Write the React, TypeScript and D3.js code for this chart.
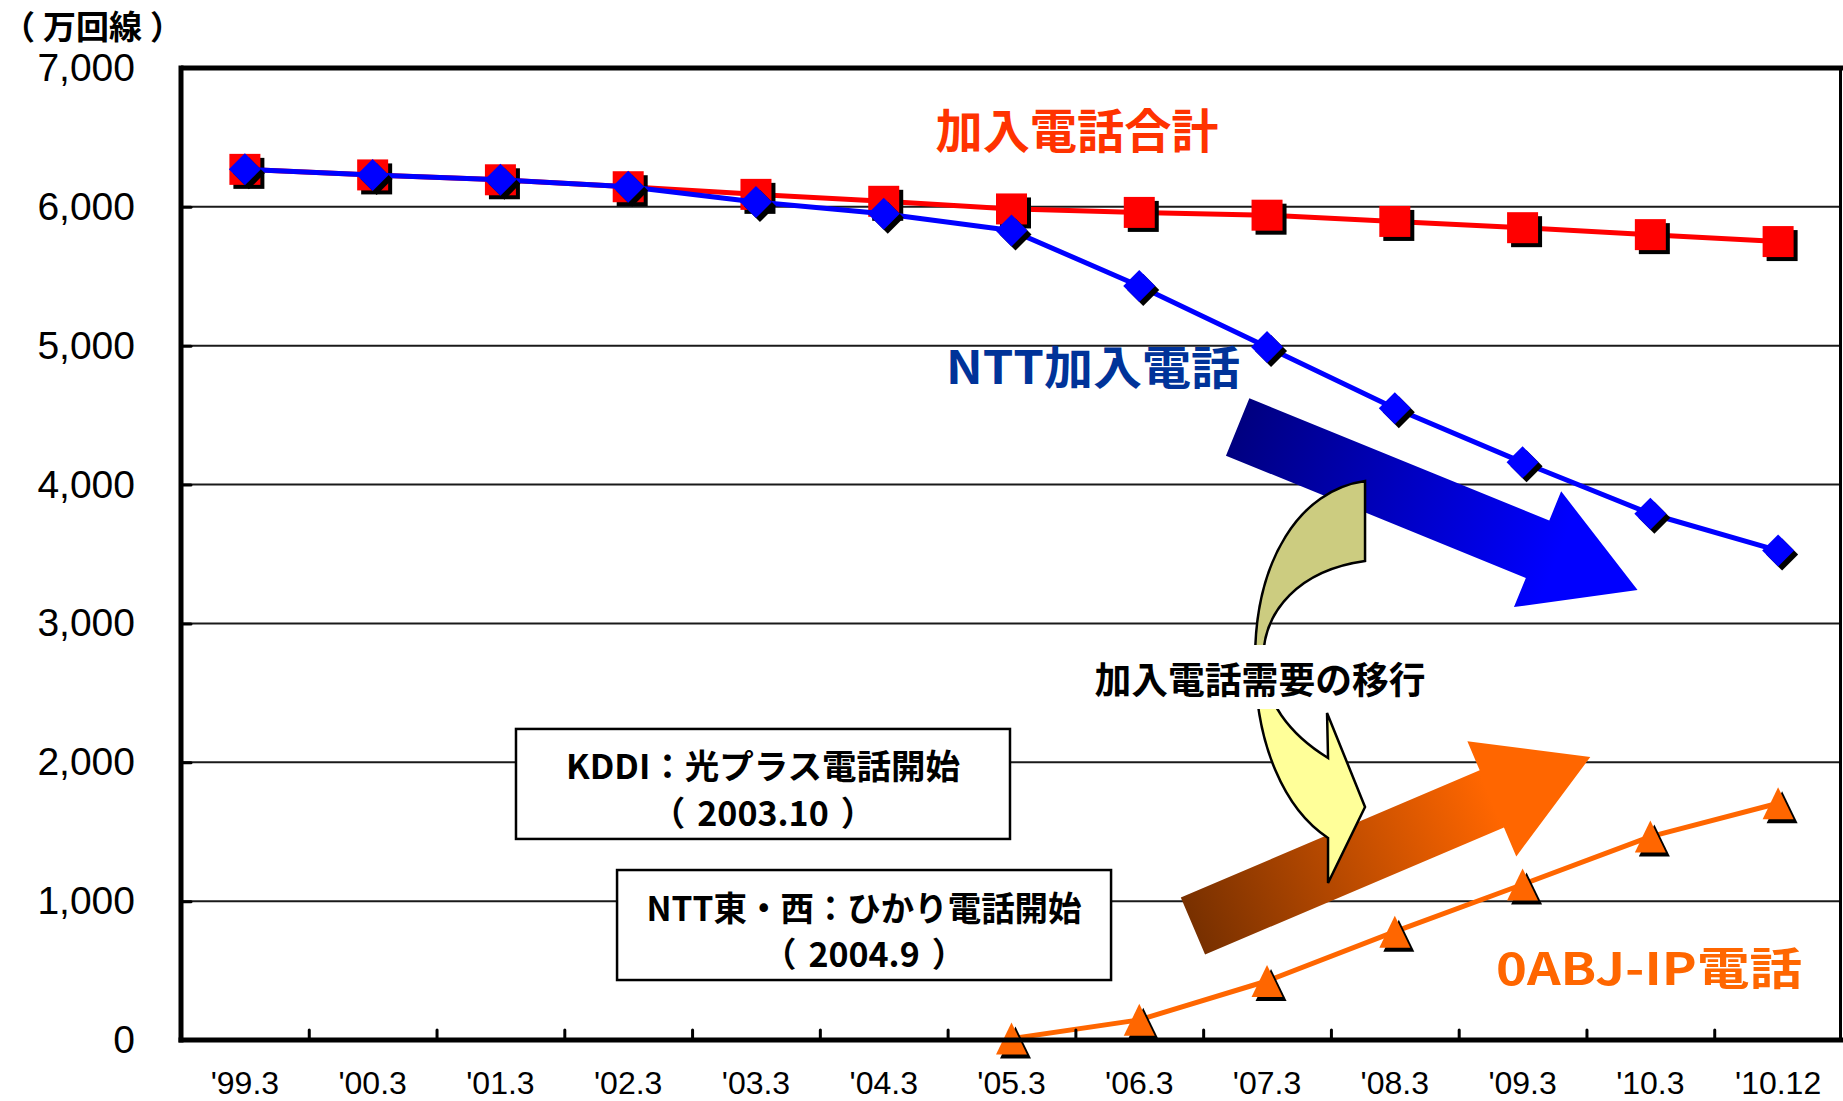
import React, { useEffect, useRef } from "react";
import * as d3 from "d3";

// x axis periods
const categories = ["'99.3", "'00.3", "'01.3", "'02.3", "'03.3", "'04.3", "'05.3", "'06.3", "'07.3", "'08.3", "'09.3", "'10.3", "'10.12"];
// 加入電話合計 (万回線)
const totalLines = [6270, 6230, 6195, 6145, 6090, 6040, 5985, 5960, 5940, 5895, 5850, 5800, 5750];
// NTT加入電話
const nttLines = [6270, 6230, 6195, 6145, 6035, 5950, 5830, 5430, 4990, 4550, 4160, 3790, 3525];
// 0ABJ-IP電話
const ipLines = [null, null, null, null, null, null, 10, 145, 425, 780, 1120, 1465, 1705];
const yTicks = [0, 1000, 2000, 3000, 4000, 5000, 6000, 7000];

const W = 1843;
const H = 1101;
const jp = "'Noto Sans CJK JP', 'Noto Sans CJK SC', sans-serif";
const latin = "'Liberation Sans', Arial, sans-serif";

type Pt = [number, number];

// block arrow from tail to tip
const arrowPath = (t: Pt, p: Pt, sw: number, hw: number, hl: number) => {
  const dx = p[0] - t[0];
  const dy = p[1] - t[1];
  const len = Math.hypot(dx, dy);
  const ux = dx / len, uy = dy / len;
  const nx = -uy, ny = ux;
  const bx = p[0] - ux * hl, by = p[1] - uy * hl;
  const pts: Pt[] = [
    [t[0] + (nx * sw) / 2, t[1] + (ny * sw) / 2],
    [bx + (nx * sw) / 2, by + (ny * sw) / 2],
    [bx + (nx * hw) / 2, by + (ny * hw) / 2],
    p,
    [bx - (nx * hw) / 2, by - (ny * hw) / 2],
    [bx - (nx * sw) / 2, by - (ny * sw) / 2],
    [t[0] - (nx * sw) / 2, t[1] - (ny * sw) / 2],
  ];
  return "M" + pts.map((d) => d.join(",")).join("L") + "Z";
};

const square = "M-15.5,-15.5H15.5V15.5H-15.5Z";
const diamond = "M0,-16L16,0L0,16L-16,0Z";
const triangle = "M0,-16L15.5,16L-15.5,16Z";

const App = () => {
  const ref = useRef<SVGSVGElement>(null);

  useEffect(() => {
    const svg = d3.select(ref.current);
    svg.selectAll("*").remove();

    const left = 181, right = 1842, top = 68, bottom = 1040;

    const x = d3.scaleBand().domain(categories).range([left, right]);
    // fractional category position, for the annotations
    const xi = d3.scaleLinear().domain([-0.5, categories.length - 0.5]).range([left, right]);
    const y = d3.scaleLinear().domain([0, 7000]).range([bottom, top]);
    const cx = (i: number) => (x(categories[i]) as number) + x.bandwidth() / 2;
    const at = (i: number, v: number): Pt => [xi(i), y(v)];

    const defs = svg.append("defs");
    const grad = (id: string, a: Pt, b: Pt, stops: [number, string][]) => {
      const g = defs
        .append("linearGradient")
        .attr("id", id)
        .attr("gradientUnits", "userSpaceOnUse")
        .attr("x1", a[0]).attr("y1", a[1]).attr("x2", b[0]).attr("y2", b[1]);
      stops.forEach(([o, c]) => g.append("stop").attr("offset", o).attr("stop-color", c));
    };

    // grid
    svg
      .append("g")
      .selectAll("line")
      .data(yTicks.filter((d) => d > 0 && d < 7000))
      .join("line")
      .attr("x1", left).attr("x2", right)
      .attr("y1", (d) => y(d)).attr("y2", (d) => y(d))
      .attr("stroke", "#1a1a1a")
      .attr("stroke-width", 2);

    // big arrows
    const blueTail = at(7.77, 4415), blueTip = at(10.9, 3241);
    const orTail = at(7.42, 821), orTip = at(10.53, 2038);
    grad("gBlue", blueTail, blueTip, [[0, "#000080"], [0.8, "#0000FF"]]);
    grad("gOrange", orTail, orTip, [[0, "#783000"], [0.75, "#FF6600"]]);
    svg.append("path").attr("d", arrowPath(blueTail, blueTip, 62, 125, 108)).attr("fill", "url(#gBlue)");
    svg.append("path").attr("d", arrowPath(orTail, orTip, 62, 125, 107)).attr("fill", "url(#gOrange)");

    // curved arrow (demand shift); gradient is in the translated space
    const [ax, ay] = at(8.767, 2737);
    grad("gCurve", [0, -179], [0, 223], [[0, "#CCCC80"], [0.42, "#CCCC80"], [0.56, "#FFFF99"], [1, "#FFFF99"]]);
    svg
      .append("path")
      .attr("transform", `translate(${ax},${ay})`)
      .attr(
        "d",
        "M0,-179 C-65,-170 -110,-100 -110,0 C-110,85 -80,150 -37,178 L-37,223 L0,147 L-38,53 L-37,98 C-75,75 -102,40 -102,0 C-102,-50 -65,-90 0,-99 Z"
      )
      .attr("fill", "url(#gCurve)")
      .attr("stroke", "#000")
      .attr("stroke-width", 2.5)
      .attr("stroke-linejoin", "miter");

    const [mx, my] = at(7.945, 2607);
    svg.append("rect").attr("x", mx - 171).attr("y", my - 33).attr("width", 342).attr("height", 64).attr("fill", "#fff");
    svg
      .append("text")
      .attr("x", mx).attr("y", my)
      .attr("text-anchor", "middle")
      .attr("dominant-baseline", "central")
      .attr("font-family", jp).attr("font-weight", 700).attr("font-size", 37)
      .attr("textLength", 331).attr("lengthAdjust", "spacingAndGlyphs")
      .text("加入電話需要の移行");

    // launch notes
    const notes = [
      { pos: at(4.055, 1844), head: "KDDI：光プラス電話開始", date: "2003.10", w1: 394 },
      { pos: at(4.846, 828), head: "NTT東・西：ひかり電話開始", date: "2004.9", w1: 435 },
    ];
    notes.forEach((n) => {
      const g = svg.append("g").attr("transform", `translate(${n.pos[0]},${n.pos[1]})`);
      g.append("rect").attr("x", -247).attr("y", -55).attr("width", 494).attr("height", 110)
        .attr("fill", "#fff").attr("stroke", "#000").attr("stroke-width", 2.5);
      g.append("text").attr("y", -19).attr("text-anchor", "middle").attr("dominant-baseline", "central")
        .attr("font-family", jp).attr("font-weight", 700).attr("font-size", 34)
        .attr("textLength", n.w1).attr("lengthAdjust", "spacingAndGlyphs")
        .text(n.head);
      const t2 = g.append("text").attr("y", 27).attr("text-anchor", "middle").attr("dominant-baseline", "central")
        .attr("font-family", jp).attr("font-weight", 700).attr("font-size", 34);
      t2.append("tspan").text("（");
      t2.append("tspan").attr("dx", 12).text(n.date);
      t2.append("tspan").attr("dx", 12).text("）");
    });

    // series
    const series = [
      { values: totalLines, color: "#FF0000", marker: square },
      { values: nttLines, color: "#0000FF", marker: diamond },
      { values: ipLines, color: "#FF6600", marker: triangle },
    ];
    const line = d3
      .line<number | null>()
      .defined((d) => d != null)
      .x((_, i) => cx(i))
      .y((d) => y(d as number));

    series.forEach((s) => {
      svg.append("path").datum(s.values).attr("d", line).attr("fill", "none")
        .attr("stroke", s.color).attr("stroke-width", 5).attr("stroke-linejoin", "round");
      const pts = s.values.map((v, i) => ({ v, i })).filter((d) => d.v != null);
      const g = svg.append("g");
      g.selectAll(".sh").data(pts).join("path").attr("class", "sh")
        .attr("d", s.marker).attr("fill", "#000")
        .attr("transform", (d) => `translate(${cx(d.i) + 4},${y(d.v as number) + 4})`);
      g.selectAll(".mk").data(pts).join("path").attr("class", "mk")
        .attr("d", s.marker).attr("fill", s.color)
        .attr("transform", (d) => `translate(${cx(d.i)},${y(d.v as number)})`);
    });

    // axes
    const yAxis = svg.append("g").attr("transform", `translate(${left},0)`)
      .call(d3.axisLeft(y).tickValues(yTicks).tickFormat(d3.format(",")).tickSizeInner(-10).tickSizeOuter(0).tickPadding(46));
    yAxis.select(".domain").remove();
    yAxis.selectAll("line").attr("stroke", "#000").attr("stroke-width", 3).attr("stroke-linecap", "round");
    yAxis.selectAll("text").attr("font-family", latin).attr("font-size", 39).attr("fill", "#000");

    const xAxis = svg.append("g").attr("transform", `translate(0,${bottom})`)
      .call(d3.axisBottom(x).tickSize(0).tickPadding(31));
    xAxis.select(".domain").remove();
    xAxis.selectAll("text").attr("font-family", latin).attr("font-size", 32).attr("fill", "#000");

    const xTicks = svg.append("g").attr("transform", `translate(0,${bottom})`)
      .call(d3.axisBottom(xi).tickValues(d3.range(0.5, categories.length - 1, 1)).tickFormat(() => "").tickSizeInner(-10).tickSizeOuter(0));
    xTicks.select(".domain").remove();
    xTicks.selectAll("line").attr("stroke", "#000").attr("stroke-width", 3).attr("stroke-linecap", "round");

    // frame
    const frame = svg.append("g").attr("stroke", "#000");
    frame.append("line").attr("x1", left).attr("x2", right + 1).attr("y1", top).attr("y2", top).attr("stroke-width", 5);
    frame.append("line").attr("x1", right - 1.5).attr("x2", right - 1.5).attr("y1", top).attr("y2", bottom).attr("stroke-width", 3);
    frame.append("line").attr("x1", left).attr("x2", left).attr("y1", top - 2.5).attr("y2", bottom + 2.5).attr("stroke-width", 5);
    frame.append("line").attr("x1", left - 2.5).attr("x2", right + 1).attr("y1", bottom).attr("y2", bottom).attr("stroke-width", 5);

    // series labels
    const labels = [
      { text: "加入電話合計", pos: at(6.513, 6575), color: "#FF3300", size: 47, len: 283 },
      { text: "NTT加入電話", pos: at(6.638, 4868), color: "#003399", size: 46, len: 294 },
      { text: "0ABJ-IP電話", pos: at(10.989, 533), color: "#FF6600", size: 44, len: 306 },
    ];
    svg.append("g").selectAll("text").data(labels).join("text")
      .attr("x", (d) => d.pos[0]).attr("y", (d) => d.pos[1])
      .attr("text-anchor", "middle").attr("dominant-baseline", "central")
      .attr("font-family", jp).attr("font-weight", 700)
      .attr("font-size", (d) => d.size)
      .attr("textLength", (d) => d.len).attr("lengthAdjust", "spacingAndGlyphs")
      .attr("fill", (d) => d.color)
      .text((d) => d.text);

    // unit
    const unit = svg.append("text").attr("x", 2).attr("y", 25).attr("dominant-baseline", "central")
      .attr("font-family", jp).attr("font-weight", 700).attr("font-size", 33);
    unit.append("tspan").text("（");
    unit.append("tspan").attr("dx", 8).text("万回線");
    unit.append("tspan").attr("dx", 8).text("）");

    return () => {
      svg.selectAll("*").remove();
    };
  }, []);

  return (
    <div style={{ position: "fixed", left: 0, top: 0, background: "#fff" }}>
      <svg ref={ref} width={W} height={H} style={{ display: "block" }}></svg>
    </div>
  );
};

export default App;
